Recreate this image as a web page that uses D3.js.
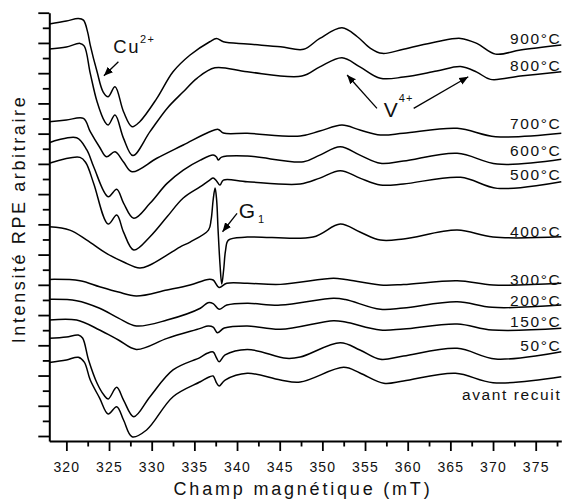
<!DOCTYPE html>
<html><head><meta charset="utf-8">
<script src="https://cdn.jsdelivr.net/npm/d3@7"></script>
<style>
html,body{margin:0;padding:0;background:#fff;}
svg{display:block;font-family:"Liberation Sans",Arial,sans-serif;}
</style></head><body>
<svg id="chart" width="563" height="504"></svg>
<script>
// Magnetic field (mT) / arbitrary EPR intensity pairs
const s900 = [[318,27.25],[320,27.45],[321.4,27.61],[322.0,27.51],[322.5,26.7],[322.8,25.86],[323.6,24.09],[324.3,22.77],[324.9,22.44],[325.7,23.10],[326.7,21.45],[327.7,20.46],[328.6,20.79],[330.6,22.33],[332.5,24.09],[334.5,25.20],[336.8,26.08],[337.6,26.29],[338.4,26.08],[341.2,25.93],[345.1,25.75],[347.8,25.58],[349.7,26.30],[352.3,27.00],[354.1,26.41],[355.6,25.66],[357.0,25.31],[359.5,25.58],[363.4,26.08],[366.2,26.30],[368.1,25.97],[370.3,25.26],[373.2,25.53],[378,25.86]];
const s800 = [[318,25.60],[320,25.73],[321.6,25.97],[322.1,25.79],[322.8,23.99],[323.6,22.11],[324.5,20.79],[324.9,20.57],[325.7,21.23],[326.7,19.69],[327.8,18.55],[329.8,20.13],[331.8,21.67],[333.7,22.77],[335.3,23.66],[337.4,24.36],[341.2,24.09],[347.6,23.81],[349.7,24.42],[352.3,25.02],[354.4,24.42],[356.8,23.66],[359.5,23.74],[363.4,24.14],[366.2,24.44],[368.1,24.07],[369.7,23.59],[373.2,23.81],[378,24.09]];
const s700 = [[318,20.79],[320,20.90],[322,21.01],[322.8,20.13],[323.9,19.1],[324.7,18.47],[325.7,18.80],[326.7,18.12],[327.7,17.48],[330.6,18.37],[333.7,19.25],[336.8,20.13],[337.8,20.28],[338.4,20.04],[341.2,20.02],[347.4,19.84],[349.7,20.17],[352.3,20.57],[354.4,20.24],[356.8,19.91],[359.5,20.02],[365.8,20.35],[370.3,19.80],[378,20.02]];
const s600 = [[318,19.40],[321.2,19.73],[322.4,18.92],[323.2,17.81],[324.9,15.83],[325.9,16.32],[326.7,15.41],[327.9,14.40],[329.8,15.39],[331.8,16.71],[333.7,17.59],[335.7,18.25],[337.2,18.58],[337.6,18.45],[337.8,18.25],[338.2,18.45],[341.2,18.52],[347.8,18.14],[349.7,18.58],[352.1,19.13],[354.4,18.58],[356.8,18.04],[359.5,18.19],[365.8,18.70],[370.5,17.99],[378,18.30]];
const s500 = [[318,18.04],[321.6,18.43],[322.3,18.06],[323.2,16.71],[324.9,14.02],[325.9,14.62],[326.7,13.49],[327.9,12.30],[329.8,13.18],[331.8,14.50],[333.7,15.74],[335.7,16.49],[336.8,16.93],[337.2,17.06],[337.6,16.87],[338.0,16.60],[338.4,16.93],[341.2,16.82],[347.4,16.67],[349.7,17.06],[352.1,17.55],[354.4,17.06],[356.8,16.60],[359.5,16.67],[366.2,17.11],[370.5,16.38],[378,16.82]];
const s400 = [[318,13.84],[320.4,13.62],[322.4,12.96],[324.7,12.08],[326.7,11.51],[328.6,11.11],[329.8,11.31],[331.6,11.90],[333.3,12.50],[334.5,12.83],[336.65,13.62],[336.96,14.29],[337.2,15.61],[337.43,16.40],[337.61,15.61],[337.78,13.62],[338.01,11.31],[338.21,10.05],[338.43,10.98],[338.66,12.30],[338.99,12.96],[341.2,13.16],[348.9,13.16],[352.1,14.02],[354.4,13.49],[356.8,12.96],[359.5,13.03],[365.8,13.62],[370.0,13.16],[378,13.18]];
const s300 = [[318,10.36],[321.6,10.27],[323.9,9.87],[326.1,9.52],[328.2,9.26],[331.8,9.66],[334.5,9.99],[336.6,10.36],[337.2,10.32],[337.9,9.83],[338.8,10.10],[341.2,10.10],[345.1,10.03],[351.3,10.43],[352.7,10.35],[356.8,9.99],[359.5,10.02],[365.8,10.27],[370.0,9.99],[378,10.10]];
const s200 = [[318,9.04],[321.2,8.95],[323.9,8.45],[326.1,7.80],[328.2,7.28],[331.8,7.67],[335.7,8.45],[336.6,8.82],[337.2,8.76],[337.9,8.38],[338.8,8.66],[341.2,8.78],[345.1,8.66],[351.3,9.11],[352.7,9.03],[356.8,8.38],[359.5,8.47],[365.8,8.88],[369.9,8.51],[378,8.66]];
const s150 = [[318,7.67],[321.2,7.67],[323.9,7.01],[326.1,6.35],[328.2,5.73],[331.8,6.46],[335.7,7.12],[336.6,7.28],[337.2,7.21],[337.7,6.83],[338.5,7.14],[341.2,7.28],[345.1,7.06],[351.3,7.63],[352.7,7.54],[356.8,7.01],[359.5,7.08],[365.8,7.41],[369.9,7.01],[378,7.12]];
const s50 = [[318,6.46],[320,6.55],[321.4,6.68],[321.9,6.48],[322.6,5.03],[323.6,3.49],[324.4,2.71],[324.9,2.45],[325.9,3.22],[326.7,2.38],[327.9,1.28],[329.8,2.60],[332.5,4.37],[335.7,5.20],[336.5,5.47],[337.2,5.56],[337.6,5.16],[337.9,4.91],[338.6,5.36],[341.2,5.73],[345.8,5.14],[347.4,5.22],[352.1,6.17],[354.4,5.69],[356.8,5.07],[359.5,5.29],[365.8,5.80],[370.3,5.09],[378,5.58]];
const sAvant = [[318,4.87],[320,5.03],[321.4,5.21],[322.1,4.89],[322.8,3.70],[323.9,2.51],[324.9,1.46],[325.9,1.94],[326.7,1.06],[327.7,-0.05],[329.4,0.40],[332.5,2.60],[335.7,3.59],[336.8,3.92],[337.2,3.97],[337.6,3.51],[337.9,3.31],[338.6,3.70],[341.2,4.15],[345.1,3.70],[347.4,3.57],[352.5,4.54],[354.4,4.17],[357.2,3.49],[359.5,3.64],[365.6,4.15],[370.0,3.53],[378,3.92]];

const seriesNames = ["900°C","800°C","700°C","600°C","500°C","400°C","300°C","200°C","150°C","50°C","avant recuit"];
const seriesData = [s900,s800,s700,s600,s500,s400,s300,s200,s150,s50,sAvant];
const labelLevels = [25.96,24.17,20.30,18.52,16.93,13.19,9.99,8.63,7.24,5.59,2.41];

const xMajorTicks = d3.range(320, 376, 5);
const xMinorTicks = d3.range(322.5, 378, 5);
const yMajorTicks = d3.range(0, 29, 2);
const yMinorTicks = d3.range(1, 28, 2);

const svg = d3.select("#chart");
const x = d3.scaleLinear().domain([318, 378]).range([49.3, 561.3]);
const y = d3.scaleLinear().domain([-0.33, 28]).range([441, 12.7]);

// minor ticks
svg.append("g").attr("transform","translate(0,441)")
  .call(d3.axisBottom(x).tickValues(xMinorTicks).tickSize(5.5).tickSizeOuter(0).tickFormat(""))
  .call(g=>g.select(".domain").remove())
  .call(g=>g.selectAll("line").attr("stroke","#000").attr("stroke-width",1.8));
svg.append("g").attr("transform","translate(49.3,0)")
  .call(d3.axisLeft(y).tickValues(yMinorTicks).tickSize(6.5).tickSizeOuter(0).tickFormat(""))
  .call(g=>g.select(".domain").remove())
  .call(g=>g.selectAll("line").attr("stroke","#000").attr("stroke-width",1.8));

// major ticks + domain
const xa = svg.append("g").attr("transform","translate(0,441)")
  .call(d3.axisBottom(x).tickValues(xMajorTicks).tickSize(10).tickSizeOuter(0).tickFormat(d3.format("d")));
xa.select(".domain").attr("stroke","#000").attr("stroke-width",2);
xa.selectAll("line").attr("stroke","#000").attr("stroke-width",1.8);
xa.selectAll("text").attr("y",30.5).attr("dy",null)
  .attr("font-size",14).attr("font-family","Liberation Sans, Arial, sans-serif")
  .attr("letter-spacing","1.2px").attr("fill","#111");

const ya = svg.append("g").attr("transform","translate(49.3,0)")
  .call(d3.axisLeft(y).tickValues(yMajorTicks).tickSize(11).tickSizeOuter(0).tickFormat(""));
ya.select(".domain").attr("stroke","#000").attr("stroke-width",2);
ya.selectAll("line").attr("stroke","#000").attr("stroke-width",1.8);

// curves
const line = d3.line().x(d=>x(d[0])).y(d=>y(d[1])).curve(d3.curveCatmullRom.alpha(0.5));
svg.append("g").selectAll("path").data(seriesData).join("path")
  .attr("d", line).attr("fill","none").attr("stroke","#000")
  .attr("stroke-width",1.5).attr("stroke-linejoin","round");

// series labels
svg.append("g").selectAll("text").data(seriesNames).join("text")
  .attr("x", x(378)).attr("y", (d,i)=>y(labelLevels[i]))
  .attr("text-anchor","end").attr("font-size",15.5).attr("letter-spacing","1.6px")
  .attr("fill","#111").text(d=>d);

// axis titles
svg.append("text").attr("x",303).attr("y",495).attr("text-anchor","middle")
  .attr("font-size",18).attr("letter-spacing","2.8px").attr("fill","#111")
  .text("Champ magnétique (mT)");
svg.append("text").attr("transform","translate(25,219) rotate(-90)").attr("text-anchor","middle")
  .attr("font-size",18).attr("letter-spacing","2.6px").attr("fill","#111")
  .text("Intensité RPE arbitraire");

// annotations
const defs = svg.append("defs");
defs.append("marker").attr("id","ah").attr("viewBox","0 0 10 10").attr("refX",10).attr("refY",5)
  .attr("markerWidth",9).attr("markerHeight",9).attr("markerUnits","userSpaceOnUse").attr("orient","auto")
  .append("path").attr("d","M0,0.8 L10,5 L0,9.2 Z").attr("fill","#000");

const arrows = [
  [[326.1,24.76],[324.4,23.83]],
  [[356.4,21.67],[352.9,23.88]],
  [[360.7,21.67],[367.1,23.76]],
  [[340.0,14.73],[338.3,13.51]]
];
svg.append("g").selectAll("line").data(arrows).join("line")
  .attr("x1",d=>x(d[0][0])).attr("y1",d=>y(d[0][1]))
  .attr("x2",d=>x(d[1][0])).attr("y2",d=>y(d[1][1]))
  .attr("stroke","#000").attr("stroke-width",1.3).attr("marker-end","url(#ah)");

const cu = svg.append("text").attr("x",x(325.5)).attr("y",y(25.31)).attr("font-size",18.5)
  .attr("letter-spacing","1.5px").attr("fill","#111");
cu.append("tspan").text("Cu");
cu.append("tspan").attr("font-size",11).attr("dy",-10).text("2+");

const vt = svg.append("text").attr("x",x(357.2)).attr("y",y(21.12)).attr("font-size",21)
  .attr("letter-spacing","1px").attr("fill","#111");
vt.append("tspan").text("V");
vt.append("tspan").attr("font-size",11).attr("dy",-15).text("4+");

const gt = svg.append("text").attr("x",x(340.2)).attr("y",y(14.40)).attr("font-size",21)
  .attr("letter-spacing","1px").attr("fill","#111");
gt.append("tspan").text("G");
gt.append("tspan").attr("font-size",11).attr("dx",2).attr("dy",5).text("1");
</script>
</body></html>
